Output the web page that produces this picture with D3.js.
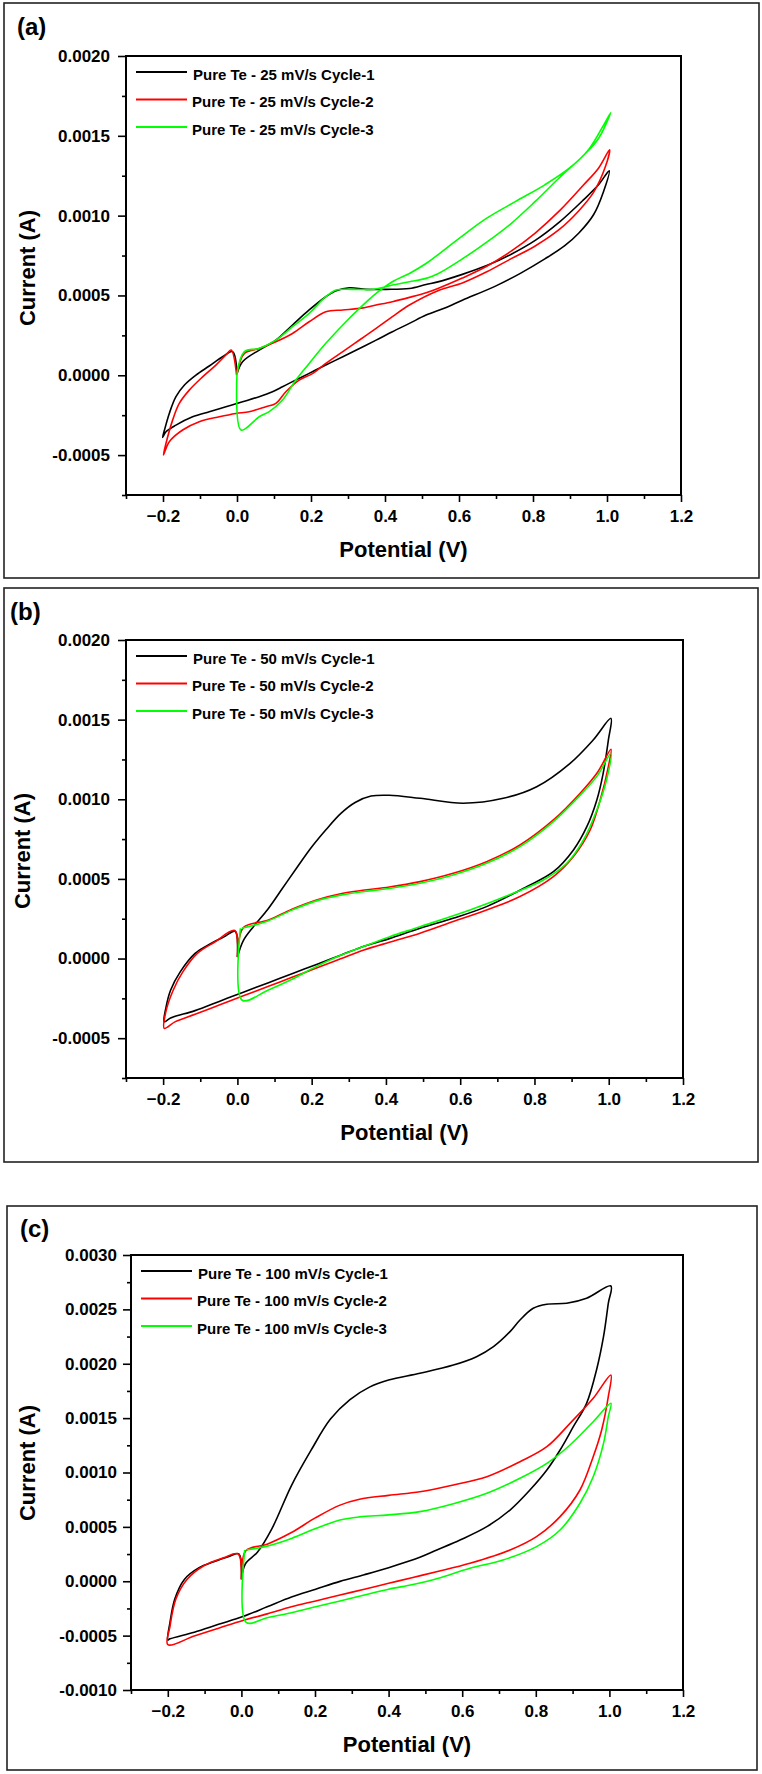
<!DOCTYPE html>
<html>
<head>
<meta charset="utf-8">
<script src="https://cdn.jsdelivr.net/npm/d3@7"></script>
<style>
  html, body { margin: 0; padding: 0; background: #fff; }
  svg { display: block; }
  text { font-family: "Liberation Sans", Arial, sans-serif; font-weight: bold; fill: #000; }
</style>
</head>
<body>
<svg id="chart" width="762" height="1774"></svg>
<script>
// ---------------- DATA ----------------
const potentialMajorTicks = [-0.2, 0.0, 0.2, 0.4, 0.6, 0.8, 1.0, 1.2];
const potentialMinorTicks = [-0.3, -0.1, 0.1, 0.3, 0.5, 0.7, 0.9, 1.1];
const currentTicksAB = [-0.0005, 0.0, 0.0005, 0.0010, 0.0015, 0.0020];
const currentMinorAB = [-0.00075, -0.00025, 0.00025, 0.00075, 0.00125, 0.00175];
const currentTicksC = [-0.0010, -0.0005, 0.0, 0.0005, 0.0010, 0.0015, 0.0020, 0.0025, 0.0030];
const currentMinorC = [-0.00075, -0.00025, 0.00025, 0.00075, 0.00125, 0.00175, 0.00225, 0.00275];
const seriesColors = ["#000000", "#ff0000", "#00ff00"];
const legendA = ["Pure Te - 25 mV/s Cycle-1", "Pure Te - 25 mV/s Cycle-2", "Pure Te - 25 mV/s Cycle-3"];
const legendB = ["Pure Te - 50 mV/s Cycle-1", "Pure Te - 50 mV/s Cycle-2", "Pure Te - 50 mV/s Cycle-3"];
const legendC = ["Pure Te - 100 mV/s Cycle-1", "Pure Te - 100 mV/s Cycle-2", "Pure Te - 100 mV/s Cycle-3"];

// (a) 25 mV/s  [potential V, current A]
const a25Cycle1 = [[0.0,0.00001],[0.015,0.000085],[0.06,0.000158],[0.105,0.00022],[0.15,0.000315],[0.195,0.000409],[0.24,0.000492],[0.268,0.00053],[0.304,0.000548],[0.349,0.000538],[0.403,0.000538],[0.466,0.000544],[0.511,0.000569],[0.543,0.000585],[0.609,0.000632],[0.675,0.000687],[0.74,0.000757],[0.806,0.000845],[0.872,0.000961],[0.937,0.0011],[0.977,0.001193],[1.006,0.001281],
  [0.99,0.001147],[0.964,0.001007],[0.924,0.000891],[0.885,0.00081],[0.832,0.000729],[0.767,0.00064],[0.7,0.00056],[0.609,0.00047],[0.56,0.00042],[0.511,0.000377],[0.466,0.000325],[0.42,0.000273],[0.376,0.00022],[0.331,0.000168],[0.286,0.000116],[0.24,0.000064],[0.195,0.000012],[0.15,-0.00004],[0.123,-0.000072],[0.096,-0.000103],[0.06,-0.000134],[0.015,-0.000166],[-0.03,-0.000197],[-0.075,-0.000228],[-0.12,-0.00026],[-0.165,-0.000312],[-0.192,-0.000354],[-0.201,-0.000389],
  [-0.196,-0.000343],[-0.183,-0.000239],[-0.165,-0.000134],[-0.142,-0.000061],[-0.111,0.000001],[-0.075,0.000058],[-0.039,0.000116],[-0.012,0.000148],[0.0,0.00001]];
const a25Cycle2 = [[0.0,0.00001],[0.02,0.000137],[0.06,0.000168],[0.105,0.00021],[0.15,0.000262],[0.195,0.000335],[0.24,0.000398],[0.286,0.000409],[0.331,0.000419],[0.376,0.00044],[0.42,0.000461],[0.466,0.000488],[0.511,0.000517],[0.543,0.000544],[0.609,0.000609],[0.675,0.000683],[0.74,0.000776],[0.806,0.000891],[0.872,0.001031],[0.937,0.001193],[0.977,0.001297],[1.007,0.001413],
  [0.996,0.001309],[0.964,0.001147],[0.924,0.001031],[0.872,0.000915],[0.806,0.00081],[0.74,0.000729],[0.675,0.000648],[0.609,0.000578],[0.543,0.00053],[0.466,0.00044],[0.42,0.000367],[0.376,0.000294],[0.331,0.000221],[0.286,0.000148],[0.24,0.000074],[0.205,0.000012],[0.168,-0.00003],[0.132,-0.000103],[0.105,-0.000176],[0.078,-0.000197],[0.033,-0.000228],[-0.003,-0.000239],[-0.048,-0.00026],[-0.102,-0.000291],[-0.147,-0.000343],[-0.183,-0.000416],[-0.199,-0.0005],
  [-0.192,-0.000427],[-0.174,-0.000281],[-0.156,-0.000176],[-0.129,-0.000093],[-0.093,-0.00001],[-0.057,0.000064],[-0.03,0.000127],[-0.016,0.000158],[-0.001,0.0]];
const a25Cycle3 = [[0.0,0.00001],[0.02,0.000148],[0.06,0.000168],[0.105,0.00022],[0.15,0.000304],[0.195,0.000388],[0.24,0.000492],[0.268,0.000534],[0.313,0.000538],[0.367,0.000538],[0.42,0.000565],[0.466,0.000586],[0.511,0.000607],[0.543,0.000636],[0.609,0.000729],[0.675,0.000834],[0.74,0.000949],[0.806,0.001089],[0.872,0.001239],[0.937,0.001378],[0.977,0.001483],[1.01,0.001645],
  [0.99,0.001564],[0.95,0.001413],[0.898,0.001297],[0.832,0.001193],[0.753,0.001089],[0.675,0.000984],[0.596,0.00085],[0.511,0.0007],[0.466,0.000638],[0.42,0.000586],[0.376,0.000513],[0.331,0.000419],[0.286,0.000315],[0.24,0.0002],[0.195,0.000074],[0.159,-0.00003],[0.123,-0.000155],[0.087,-0.000228],[0.06,-0.00026],[0.011,-0.000343],[0.0,0.00001]];

// (b) 50 mV/s
const b50Cycle1 = [[0.0,0.000009],[0.016,0.000113],[0.043,0.0002],[0.082,0.00031],[0.121,0.00044],[0.16,0.00057],[0.2,0.0007],[0.239,0.00081],[0.278,0.00091],[0.317,0.00098],[0.36,0.00102],[0.409,0.001025],[0.492,0.001006],[0.608,0.000975],[0.716,0.001006],[0.806,0.001079],[0.896,0.001226],[0.958,0.001372],[1.006,0.001508],
  [0.999,0.001372],[0.985,0.001163],[0.968,0.000996],[0.941,0.000828],[0.905,0.000682],[0.851,0.000545],[0.779,0.000451],[0.671,0.000326],[0.581,0.000253],[0.492,0.00019],[0.409,0.000125],[0.343,0.000079],[0.278,0.000021],[0.213,-0.000037],[0.147,-0.000095],[0.082,-0.000153],[0.016,-0.000211],[-0.049,-0.000269],[-0.114,-0.000327],[-0.18,-0.000373],[-0.197,-0.000396],
  [-0.193,-0.000315],[-0.18,-0.000199],[-0.154,-0.000084],[-0.114,0.000032],[-0.075,0.00009],[-0.036,0.000136],[-0.006,0.000171],[0.0,0.000009]];
const b50Cycle2 = [[0.0,0.000009],[0.016,0.000194],[0.082,0.000241],[0.147,0.00031],[0.213,0.000368],[0.278,0.000407],[0.343,0.00043],[0.409,0.000449],[0.492,0.000483],[0.581,0.000535],[0.671,0.000608],[0.761,0.000713],[0.851,0.00087],[0.923,0.001038],[0.97,0.00117],[1.006,0.001314],
  [0.999,0.001205],[0.977,0.000996],[0.95,0.000807],[0.905,0.00064],[0.851,0.000514],[0.761,0.000389],[0.671,0.000305],[0.581,0.000232],[0.492,0.000159],[0.409,0.000102],[0.343,0.000055],[0.278,-0.000002],[0.213,-0.00006],[0.147,-0.000118],[0.082,-0.000176],[0.016,-0.000234],[-0.049,-0.000292],[-0.114,-0.00035],[-0.167,-0.000396],[-0.197,-0.000438],
  [-0.193,-0.000338],[-0.173,-0.000199],[-0.147,-0.000084],[-0.108,0.000032],[-0.062,0.000102],[-0.007,0.000176],[0.0,0.000009]];
const b50Cycle3 = [[0.012,0.00019],[0.082,0.000236],[0.147,0.000304],[0.213,0.000362],[0.278,0.000398],[0.343,0.000421],[0.409,0.00044],[0.492,0.000473],[0.581,0.000525],[0.671,0.000598],[0.761,0.000703],[0.851,0.00086],[0.923,0.001025],[0.97,0.00115],[1.006,0.001289],
  [0.994,0.001121],[0.968,0.000933],[0.932,0.000745],[0.887,0.000598],[0.824,0.000493],[0.743,0.00041],[0.626,0.000305],[0.492,0.0002],[0.409,0.000136],[0.343,0.000079],[0.278,0.000021],[0.213,-0.000049],[0.147,-0.00013],[0.082,-0.000199],[0.013,-0.000262],[0.008,0.00019]];

// (c) 100 mV/s
const c100Cycle1 = [[0.0,0.000017],[0.011,0.000161],[0.044,0.000269],[0.083,0.000484],[0.136,0.00088],[0.189,0.001203],[0.242,0.001491],[0.295,0.00167],[0.348,0.001785],[0.4,0.00185],[0.485,0.001912],[0.576,0.001988],[0.639,0.002065],[0.685,0.002157],[0.73,0.002295],[0.757,0.002402],[0.793,0.00251],[0.83,0.002547],[0.884,0.002556],[0.938,0.002602],[1.004,0.002715],
  [0.997,0.002556],[0.984,0.002249],[0.965,0.001943],[0.938,0.001636],[0.902,0.001421],[0.866,0.001207],[0.83,0.001023],[0.784,0.000839],[0.73,0.000655],[0.667,0.000502],[0.594,0.000379],[0.531,0.000287],[0.485,0.00022],[0.4,0.000125],[0.334,0.00006],[0.268,-0.000001],[0.202,-0.000073],[0.136,-0.000145],[0.07,-0.000235],[0.004,-0.000325],[-0.062,-0.000396],[-0.128,-0.000468],[-0.194,-0.000529],[-0.2,-0.00054],
  [-0.194,-0.000378],[-0.181,-0.000163],[-0.155,0.000017],[-0.115,0.000125],[-0.075,0.000179],[-0.036,0.000225],[-0.007,0.000251],[0.0,0.000017]];
const c100Cycle2 = [[0.0,0.000017],[0.012,0.00028],[0.07,0.000341],[0.136,0.000448],[0.202,0.000585],[0.268,0.0007],[0.321,0.000754],[0.4,0.00079],[0.485,0.000823],[0.576,0.000885],[0.667,0.000961],[0.757,0.001099],[0.83,0.001237],[0.893,0.001452],[0.956,0.001682],[1.004,0.001897],
  [0.997,0.001697],[0.979,0.001391],[0.956,0.001145],[0.92,0.000839],[0.866,0.000594],[0.802,0.00041],[0.73,0.000287],[0.621,0.000165],[0.533,0.000089],[0.466,0.000035],[0.4,-0.000019],[0.334,-0.000073],[0.268,-0.000127],[0.202,-0.000181],[0.136,-0.000235],[0.07,-0.0003],[0.004,-0.00036],[-0.062,-0.000432],[-0.128,-0.000504],[-0.2,-0.000583],
  [-0.194,-0.000414],[-0.178,-0.000163],[-0.148,0.000017],[-0.102,0.000143],[-0.049,0.000215],[-0.009,0.000251],[0.0,0.000017]];
const c100Cycle3 = [[0.013,0.000287],[0.07,0.000323],[0.136,0.000394],[0.202,0.000484],[0.268,0.000563],[0.321,0.000592],[0.4,0.00061],[0.485,0.00064],[0.576,0.000713],[0.667,0.000809],[0.757,0.000947],[0.83,0.001084],[0.893,0.001253],[0.956,0.001467],[1.004,0.001636],
  [0.997,0.001513],[0.984,0.001268],[0.956,0.000961],[0.92,0.000717],[0.866,0.000471],[0.802,0.000318],[0.711,0.000195],[0.621,0.000119],[0.533,0.000025],[0.466,-0.00003],[0.4,-0.000073],[0.334,-0.000127],[0.268,-0.000181],[0.202,-0.000235],[0.136,-0.000289],[0.07,-0.000335],[0.013,-0.000378],[0.009,0.000287]];

// ---------------- DRAW ----------------
const svg = d3.select("#chart");
svg.append("rect").attr("width", 762).attr("height", 1774).attr("fill", "#fff");

const panels = [
  { tag: "(a)", frame: [4, 3, 755, 575], plot: {l: 126, r: 681, t: 56, b: 495},
    yDomain: [-0.00075, 0.0020], yMajor: currentTicksAB, yMinor: currentMinorAB,
    series: [a25Cycle1, a25Cycle2, a25Cycle3], legend: legendA,
    tagPos: [17, 35], yTitle: [34.5, 268], labelPad: 8 },
  { tag: "(b)", frame: [4, 588, 754, 574], plot: {l: 126, r: 683, t: 640, b: 1078},
    yDomain: [-0.00075, 0.0020], yMajor: currentTicksAB, yMinor: currentMinorAB,
    series: [b50Cycle1, b50Cycle2, b50Cycle3], legend: legendB,
    tagPos: [10, 620], yTitle: [30, 851], labelPad: 8 },
  { tag: "(c)", frame: [7, 1206, 750, 564], plot: {l: 131, r: 683, t: 1255, b: 1690},
    yDomain: [-0.0010, 0.0030], yMajor: currentTicksC, yMinor: currentMinorC,
    series: [c100Cycle1, c100Cycle2, c100Cycle3], legend: legendC,
    tagPos: [20, 1237], yTitle: [34.5, 1463], labelPad: 6 }
];

panels.forEach(p => {
  const g = svg.append("g");
  const [fx, fy, fw, fh] = p.frame;
  g.append("rect").attr("x", fx).attr("y", fy).attr("width", fw).attr("height", fh)
    .attr("fill", "none").attr("stroke", "#222").attr("stroke-width", 1.6);

  const {l, r, t, b} = p.plot;
  const x = d3.scaleLinear().domain([-0.3, 1.2]).range([l, r]);
  const y = d3.scaleLinear().domain(p.yDomain).range([b, t]);

  const xMaj = g.append("g").attr("transform", `translate(0,${b})`)
    .call(d3.axisBottom(x).tickValues(potentialMajorTicks).tickSize(7).tickPadding(8)
      .tickFormat(d3.format(".1f")));
  const xMin = g.append("g").attr("transform", `translate(0,${b})`)
    .call(d3.axisBottom(x).tickValues(potentialMinorTicks).tickSize(4).tickFormat(""));
  const yMaj = g.append("g").attr("transform", `translate(${l},0)`)
    .call(d3.axisLeft(y).tickValues(p.yMajor).tickSize(8).tickPadding(p.labelPad)
      .tickFormat(d => d3.format(".4f")(d).replace("\u2212", "-")));
  const yMin = g.append("g").attr("transform", `translate(${l},0)`)
    .call(d3.axisLeft(y).tickValues(p.yMinor).tickSize(4).tickFormat(""));
  [xMaj, xMin, yMaj, yMin].forEach(a => {
    a.select(".domain").remove();
    a.selectAll(".tick line").attr("stroke", "#000").attr("stroke-width", 1.6);
    a.selectAll(".tick text").style("font-size", "17px")
      .style("font-family", '"Liberation Sans", Arial, sans-serif').style("font-weight", "bold").attr("fill", "#000");
  });

  const line = d3.line().curve(d3.curveCatmullRom.alpha(0.5)).x(d => x(d[0])).y(d => y(d[1]));
  p.series.forEach((s, i) => {
    g.append("path").datum(s).attr("d", line).attr("fill", "none")
      .attr("stroke", seriesColors[i]).attr("stroke-width", 1.6).attr("stroke-linejoin", "round");
  });

  g.append("rect").attr("x", l).attr("y", t).attr("width", r - l).attr("height", b - t)
    .attr("fill", "none").attr("stroke", "#000").attr("stroke-width", 2);

  const legOff = [16, 43.5, 71];
  p.legend.forEach((txt, i) => {
    const ly = t + legOff[i];
    g.append("line").attr("x1", l + 10).attr("x2", l + 61).attr("y1", ly).attr("y2", ly)
      .attr("stroke", seriesColors[i]).attr("stroke-width", 2);
    g.append("text").attr("x", l + (i === 0 ? 67 : 66)).attr("y", ly + 7.5)
      .style("font-size", "15px").text(txt);
  });

  g.append("text").attr("x", p.tagPos[0]).attr("y", p.tagPos[1]).style("font-size", "24px").text(p.tag);

  g.append("text").attr("text-anchor", "middle")
    .attr("transform", `translate(${p.yTitle[0]},${p.yTitle[1]}) rotate(-90)`)
    .style("font-size", "22px").text("Current (A)");
  g.append("text").attr("text-anchor", "middle").attr("x", (l + r) / 2).attr("y", b + 62)
    .style("font-size", "22px").text("Potential (V)");
});
</script>
</body>
</html>
